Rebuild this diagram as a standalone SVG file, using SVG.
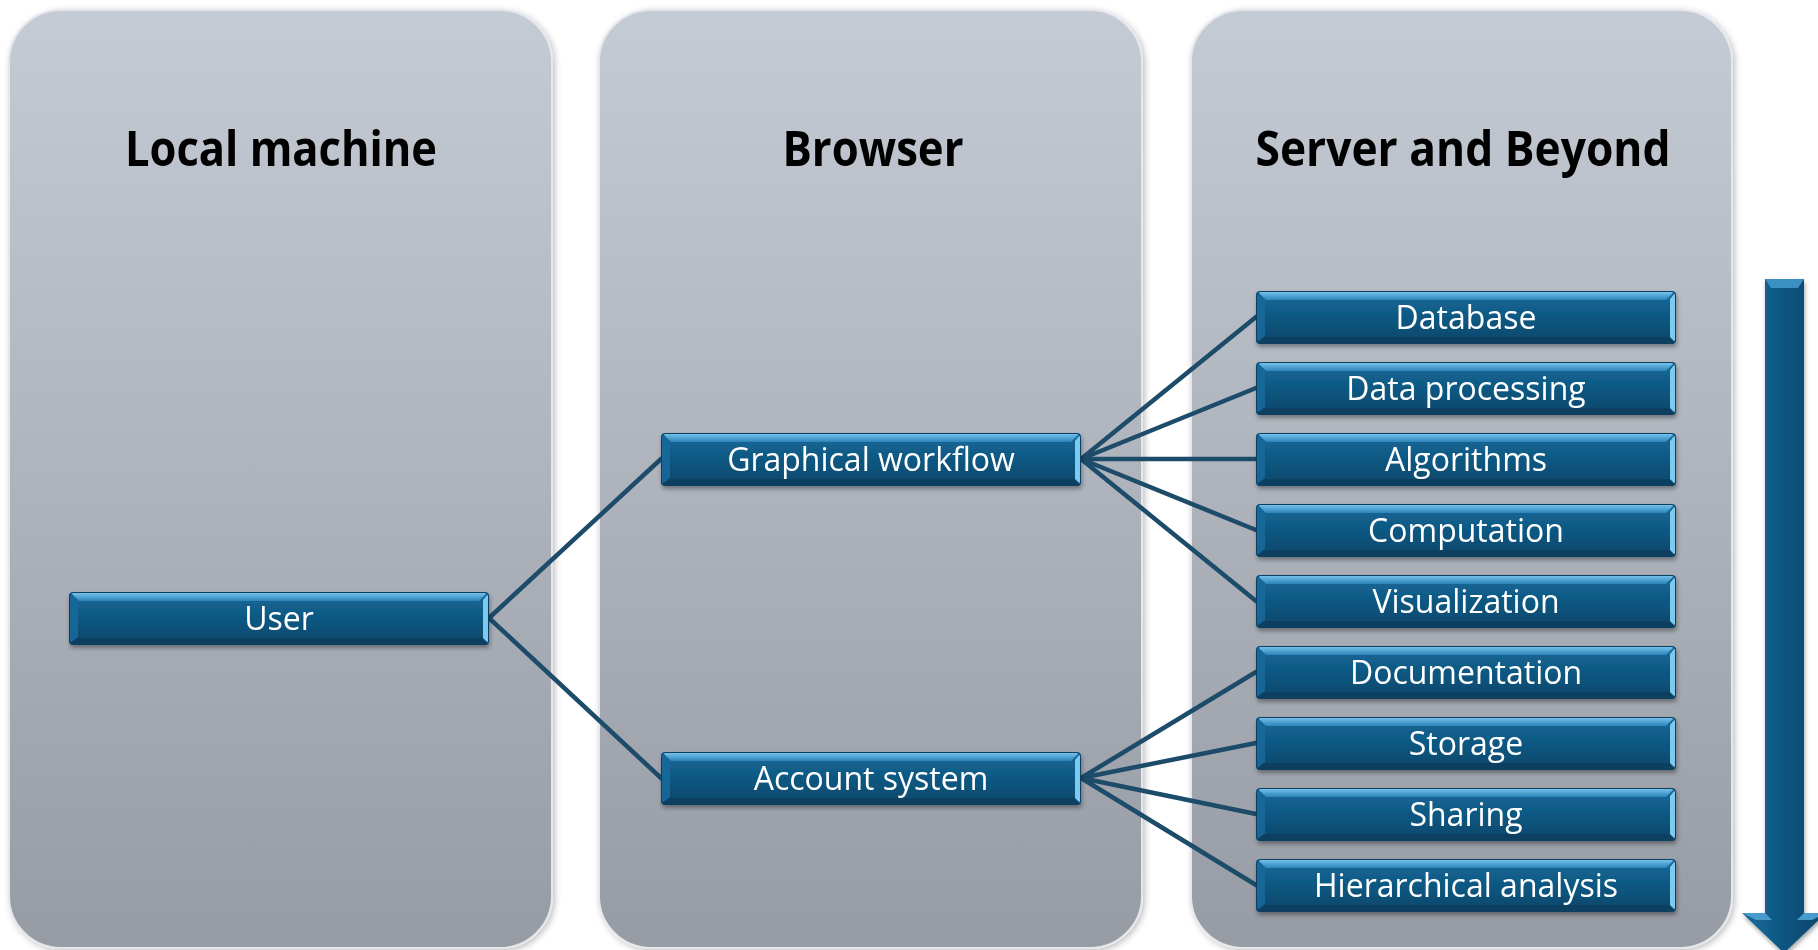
<svg xmlns="http://www.w3.org/2000/svg" xmlns:xlink="http://www.w3.org/1999/xlink" width="1818" height="950" viewBox="0 0 1818 950">
<defs>
<linearGradient id="panelGrad" x1="0" y1="0" x2="0" y2="1">
<stop offset="0" stop-color="#c5cbd4"/>
<stop offset="1" stop-color="#979ba4"/>
</linearGradient>
<linearGradient id="btnGrad" x1="0" y1="0" x2="0" y2="1">
<stop offset="0" stop-color="#156a9b"/>
<stop offset="1" stop-color="#0a4669"/>
</linearGradient>
<linearGradient id="topBevel" x1="0" y1="0" x2="0" y2="1">
<stop offset="0" stop-color="#74c0ea"/>
<stop offset="1" stop-color="#2c84b8"/>
</linearGradient>
<linearGradient id="shaftGrad" x1="0" y1="0" x2="1" y2="0">
<stop offset="0" stop-color="#1a6d9e"/>
<stop offset="0.5" stop-color="#0d5580"/>
<stop offset="1" stop-color="#0a4568"/>
</linearGradient>
<filter id="shadow" x="-5%" y="-20%" width="110%" height="160%">
<feDropShadow dx="1" dy="3" stdDeviation="2" flood-color="#000" flood-opacity="0.35"/>
</filter>
<filter id="panelShadow" x="-5%" y="-5%" width="110%" height="110%">
<feDropShadow dx="2" dy="2" stdDeviation="3" flood-color="#000" flood-opacity="0.25"/>
</filter>
<g id="btn">
<rect x="0" y="0" width="420" height="53" rx="4" fill="url(#btnGrad)"/>
<polygon points="2,1 418,1 410,9 10,9" fill="url(#topBevel)"/>
<polygon points="1,2 9,9 9,45 1,51" fill="#17689a" opacity="0.9"/>
<polygon points="419,2 419,51 414,46 414,8" fill="#7ccaf0"/>
<polygon points="1,52 419,52 413,46 8,46" fill="#083e5e" opacity="0.8"/>
<rect x="0.5" y="0.5" width="419" height="52" rx="4" fill="none" stroke="#0a3f60" stroke-width="1"/>
</g>
</defs>
<style>
.panel{fill:url(#panelGrad);stroke:#e4e8ee;stroke-width:2}
.title{font-family:"Open Sans","Liberation Sans",sans-serif;font-weight:bold;font-size:48px;fill:#000;text-anchor:middle}
.label{font-family:"Open Sans","Liberation Sans",sans-serif;font-size:32px;fill:#fff;text-anchor:middle}
.conn{stroke:#1d4b6a;stroke-width:4.5;fill:none;stroke-linecap:round}
</style>
<rect width="1818" height="950" fill="#ffffff"/>
<g id="panels" filter="url(#panelShadow)">
<g id="panel-local"><rect class="panel" x="9" y="10" width="543" height="938" rx="52"/><text class="title" x="281" y="166" textLength="312" lengthAdjust="spacingAndGlyphs">Local machine</text></g>
<g id="panel-browser"><rect class="panel" x="599" y="10" width="543" height="938" rx="52"/><text class="title" x="873" y="166" textLength="181" lengthAdjust="spacingAndGlyphs">Browser</text></g>
<g id="panel-server"><rect class="panel" x="1191" y="10" width="541" height="938" rx="52"/><text class="title" x="1463" y="166" textLength="415" lengthAdjust="spacingAndGlyphs">Server and Beyond</text></g>
</g>
<g id="connectors">
<line class="conn" x1="489" y1="618" x2="661" y2="459"/>
<line class="conn" x1="489" y1="618" x2="661" y2="778"/>
<line class="conn" x1="1081" y1="459" x2="1256" y2="317"/>
<line class="conn" x1="1081" y1="459" x2="1256" y2="388"/>
<line class="conn" x1="1081" y1="459" x2="1256" y2="459"/>
<line class="conn" x1="1081" y1="459" x2="1256" y2="530"/>
<line class="conn" x1="1081" y1="459" x2="1256" y2="601"/>
<line class="conn" x1="1081" y1="778" x2="1256" y2="672"/>
<line class="conn" x1="1081" y1="778" x2="1256" y2="743"/>
<line class="conn" x1="1081" y1="778" x2="1256" y2="814"/>
<line class="conn" x1="1081" y1="778" x2="1256" y2="885"/>
</g>
<g id="node-user" filter="url(#shadow)"><use xlink:href="#btn" x="69" y="592"/><text class="label" x="279" y="630">User</text></g>
<g id="node-graphical" filter="url(#shadow)"><use xlink:href="#btn" x="661" y="433"/><text class="label" x="871" y="471">Graphical workflow</text></g>
<g id="node-account" filter="url(#shadow)"><use xlink:href="#btn" x="661" y="752"/><text class="label" x="871" y="790">Account system</text></g>
<g id="node-database" filter="url(#shadow)"><use xlink:href="#btn" x="1256" y="291"/><text class="label" x="1466" y="329">Database</text></g>
<g id="node-dataproc" filter="url(#shadow)"><use xlink:href="#btn" x="1256" y="362"/><text class="label" x="1466" y="400">Data processing</text></g>
<g id="node-algorithms" filter="url(#shadow)"><use xlink:href="#btn" x="1256" y="433"/><text class="label" x="1466" y="471">Algorithms</text></g>
<g id="node-computation" filter="url(#shadow)"><use xlink:href="#btn" x="1256" y="504"/><text class="label" x="1466" y="542">Computation</text></g>
<g id="node-visualization" filter="url(#shadow)"><use xlink:href="#btn" x="1256" y="575"/><text class="label" x="1466" y="613">Visualization</text></g>
<g id="node-documentation" filter="url(#shadow)"><use xlink:href="#btn" x="1256" y="646"/><text class="label" x="1466" y="684">Documentation</text></g>
<g id="node-storage" filter="url(#shadow)"><use xlink:href="#btn" x="1256" y="717"/><text class="label" x="1466" y="755">Storage</text></g>
<g id="node-sharing" filter="url(#shadow)"><use xlink:href="#btn" x="1256" y="788"/><text class="label" x="1466" y="826">Sharing</text></g>
<g id="node-hierarchical" filter="url(#shadow)"><use xlink:href="#btn" x="1256" y="859"/><text class="label" x="1466" y="897">Hierarchical analysis</text></g>
<g id="arrow" filter="url(#shadow)">
<polygon points="1765,279 1804,279 1804,913 1826,913 1784,953 1742,913 1765,913" fill="url(#shaftGrad)"/>
<polygon points="1765,279 1804,279 1798,288 1771,288" fill="#3b8fc2"/>
<polygon points="1742,913 1765,913 1772,920 1756,920" fill="#4a9bcc"/>
<polygon points="1804,913 1826,913 1812,920 1797,920" fill="#4a9bcc"/>
</g>
</svg>
